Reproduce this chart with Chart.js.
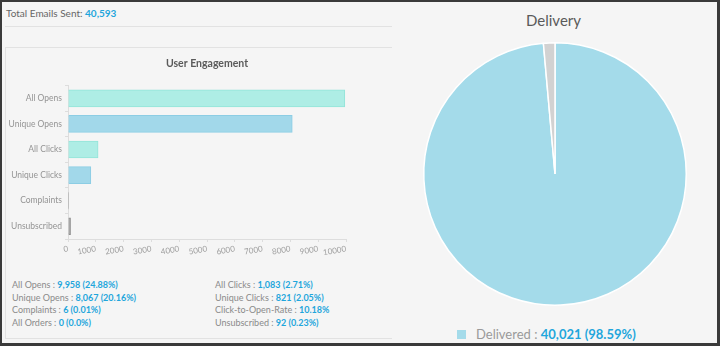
<!DOCTYPE html>
<html>
<head>
<meta charset="utf-8">
<script src="https://cdn.jsdelivr.net/npm/chart.js@4.4.1/dist/chart.umd.min.js"></script>
<style>
    body { margin: 0; font-family: Lato, "Open Sans", sans-serif; }
    .frame {
        position: relative; width: 720px; height: 346px; box-sizing: border-box;
        border: 2px solid #3a3a3a; border-right-width: 3px; border-bottom-width: 3px;
        background: #f5f5f5; overflow: hidden;
    }
    .total { position: absolute; left: 4px; top: 5px; font-size: 10px; color: #666; }
    .blue { color: #1fa6dc; font-weight: bold; }
    .rule { position: absolute; left: 3px; top: 24px; width: 387px; height: 1px; background: #e2e2e2; }
    .card {
        position: absolute; left: 3px; top: 45px; width: 387px; height: 292px;
        border: 1px solid #e2e2e2; border-right: none; box-sizing: border-box;
    }
    #engagementChart { position: absolute; left: 1px; top: 1px; }
    .stats { position: absolute; top: 231px; font-size: 9px; line-height: 12.7px; color: #8a8a8a; }
    .stats.left { left: 6px; }
    .stats.right { left: 209px; }
    .pie-title { position: absolute; left: 400px; width: 303px; top: 9px; text-align: center; font-size: 15px; color: #5a5a5a; }
    #deliveryChart { position: absolute; left: 419px; top: 39px; }
    .legend { position: absolute; left: 455px; top: 324px; font-size: 13px; color: #9a9a9a; white-space: nowrap; }
    .legend .box { display: inline-block; width: 9px; height: 9px; background: #a4dbea; margin-right: 10px; vertical-align: 0px; }
</style>
</head>
<body>
<div class="frame">
    <div class="total">Total Emails Sent: <span class="blue">40,593</span></div>
    <div class="rule"></div>
    <div class="card">
        <canvas id="engagementChart" width="386" height="212"></canvas>
        <div class="stats left">
            <div>All Opens : <span class="blue">9,958 (24.88%)</span></div>
            <div>Unique Opens : <span class="blue">8,067 (20.16%)</span></div>
            <div>Complaints : <span class="blue">6 (0.01%)</span></div>
            <div>All Orders : <span class="blue">0 (0.0%)</span></div>
        </div>
        <div class="stats right">
            <div>All Clicks : <span class="blue">1,083 (2.71%)</span></div>
            <div>Unique Clicks : <span class="blue">821 (2.05%)</span></div>
            <div>Click-to-Open-Rate : <span class="blue">10.18%</span></div>
            <div>Unsubscribed : <span class="blue">92 (0.23%)</span></div>
        </div>
    </div>
    <div class="pie-title">Delivery</div>
    <canvas id="deliveryChart" width="268" height="266"></canvas>
    <div class="legend"><span class="box"></span>Delivered : <span class="blue">40,021 (98.59%)</span></div>
</div>

<script>
// engagement bars
const engagementLabels = ['All Opens', 'Unique Opens', 'All Clicks', 'Unique Clicks', 'Complaints', 'Unsubscribed'];
const engagementValues = [9958, 8067, 1083, 821, 6, 92];
const engagementTicks = [0, 1000, 2000, 3000, 4000, 5000, 6000, 7000, 8000, 9000, 10000];

// delivery pie
const deliveryLabels = ['Delivered', 'Not Delivered'];
const deliveryValues = [40021, 572];

const barFill = ['#aeede5', '#a2d8ea', '#aeede5', '#a2d8ea', '#b4b4b4', '#a8a8a8'];
const barEdge = ['#93e4d9', '#8ccde4', '#93e4d9', '#8ccde4', '#9a9a9a', '#8f8f8f'];

new Chart(document.getElementById('engagementChart'), {
    type: 'bar',
    data: {
        labels: engagementLabels,
        datasets: [{
            data: engagementValues,
            backgroundColor: barFill,
            borderColor: barEdge,
            borderWidth: 1,
            barThickness: 17
        }]
    },
    options: {
        indexAxis: 'y',
        responsive: false,
        animation: false,
        layout: { padding: { right: 47 } },
        plugins: {
            legend: { display: false },
            tooltip: { enabled: false },
            title: {
                display: true,
                fullSize: false,   // centre over the plot, not the whole canvas
                text: 'User Engagement',
                color: '#5a5a5a',
                font: { family: 'Lato', size: 10.5, weight: 'bold' },
                padding: { top: 8, bottom: 16 }
            }
        },
        scales: {
            x: {
                min: 0,
                max: 10000,
                afterBuildTicks: scale => { scale.ticks = engagementTicks.map(v => ({ value: v })); },
                afterFit: scale => { scale.height = 22; },
                grid: { drawOnChartArea: false, color: '#ddd', tickLength: 3 },
                border: { color: '#ddd' },
                ticks: {
                    autoSkip: false,
                    callback: value => String(value),
                    color: '#a0a0a0',
                    font: { family: 'Lato', size: 8 },
                    minRotation: 10,
                    maxRotation: 10,
                    padding: 2
                }
            },
            y: {
                afterFit: scale => { scale.width = 61; },
                grid: { drawOnChartArea: false, color: '#ddd', tickLength: 3 },
                border: { color: '#ddd' },
                ticks: { color: '#949494', font: { family: 'Lato', size: 8.5 }, padding: 3 }
            }
        }
    }
});

new Chart(document.getElementById('deliveryChart'), {
    type: 'pie',
    data: {
        labels: deliveryLabels,
        datasets: [{
            data: deliveryValues,
            backgroundColor: ['#a4dbea', '#d2d2d2'],
            borderColor: '#ffffff',
            borderWidth: 1.5
        }]
    },
    options: {
        responsive: false,
        animation: false,
        layout: { padding: 1 },
        plugins: {
            legend: { display: false },
            tooltip: { enabled: false }
        }
    }
});
</script>
</body>
</html>
